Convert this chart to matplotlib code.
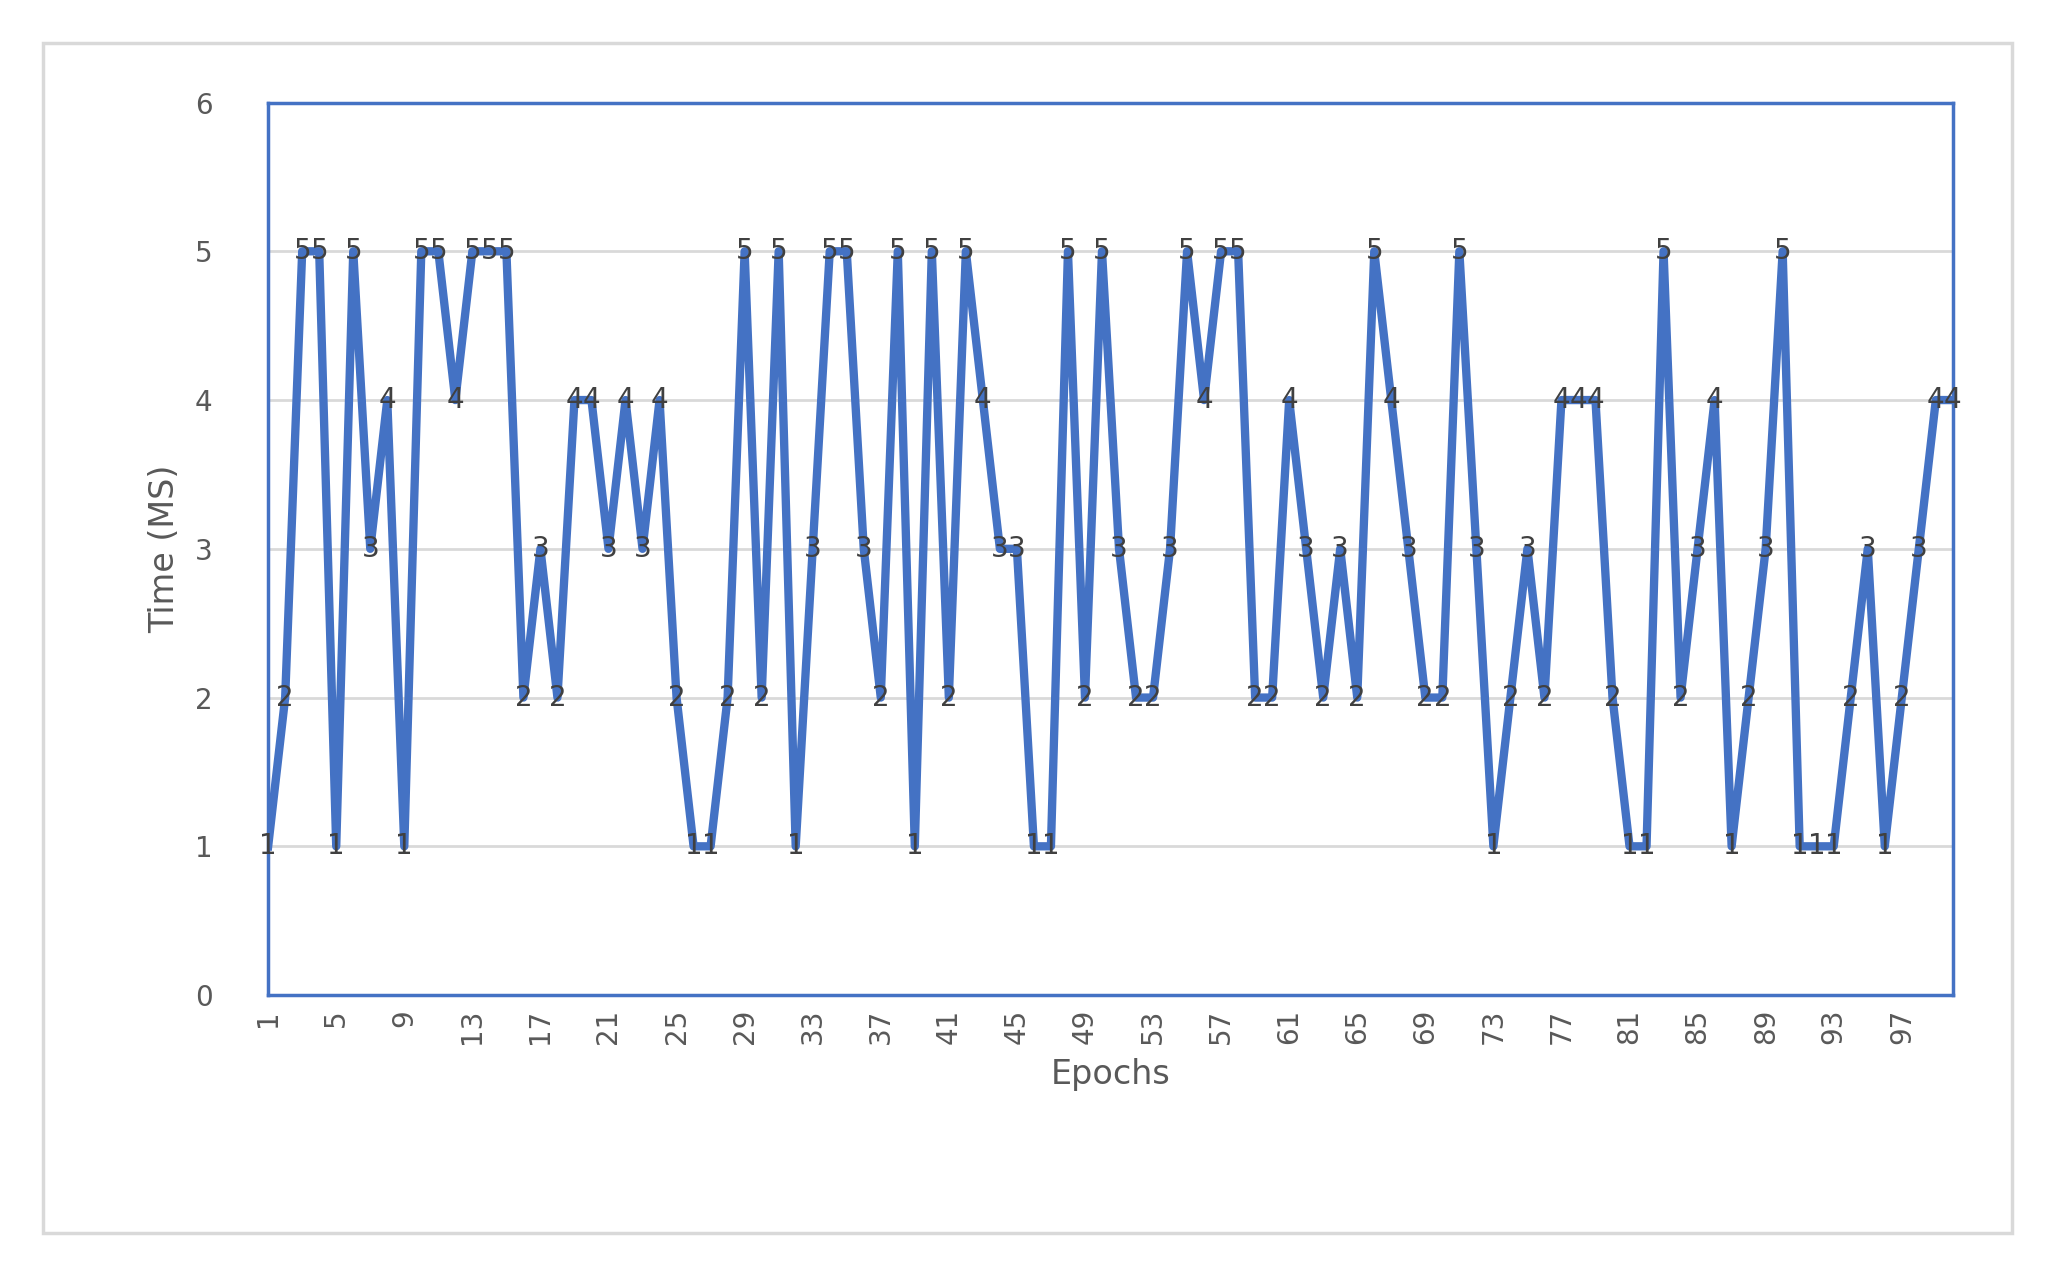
import matplotlib
matplotlib.use("Agg")
import matplotlib.pyplot as plt
from matplotlib.patches import Rectangle

epochs = list(range(1, 101))
times = [1, 2, 5, 5, 1, 5, 3, 4, 1, 5,
         5, 4, 5, 5, 5, 2, 3, 2, 4, 4,
         3, 4, 3, 4, 2, 1, 1, 2, 5, 2,
         5, 1, 3, 5, 5, 3, 2, 5, 1, 5,
         2, 5, 4, 3, 3, 1, 1, 5, 2, 5,
         3, 2, 2, 3, 5, 4, 5, 5, 2, 2,
         4, 3, 2, 3, 2, 5, 4, 3, 2, 2,
         5, 3, 1, 2, 3, 2, 4, 4, 4, 2,
         1, 1, 5, 2, 3, 4, 1, 2, 3, 5,
         1, 1, 1, 2, 3, 1, 2, 3, 4, 4]

BLUE = "#4472C4"
GREY = "#595959"

fig = plt.figure(figsize=(20.47, 12.66), dpi=100)
fig.patches.append(Rectangle((0.021, 0.026), 0.962, 0.94, transform=fig.transFigure,
                             fill=False, ec="#d9d9d9", lw=2.5))
ax = fig.add_axes([0.131, 0.214, 0.823, 0.705])

ax.plot(epochs, times, color=BLUE, lw=6, zorder=3)
for x, y in zip(epochs, times):
    ax.text(x, y, str(y), ha="center", va="center", fontsize=20, color="#404040", zorder=4)

ax.set_xlim(1, 100)
ax.set_ylim(0, 6)
ax.set_yticks(range(7))
ax.set_xticks(range(1, 101, 4))
ax.tick_params(axis="x", rotation=90, labelsize=20, colors=GREY, length=0, pad=10)
ax.tick_params(axis="y", labelsize=20, colors=GREY, length=0, pad=40)
ax.grid(axis="y", color="#d9d9d9", lw=2, zorder=0)
for s in ax.spines.values():
    s.set_color(BLUE)
    s.set_linewidth(2.5)
ax.set_xlabel("Epochs", fontsize=24, color=GREY, labelpad=10)
ax.set_ylabel("Time (MS)", fontsize=24, color=GREY, labelpad=10)

fig.savefig("out.png", dpi=100, facecolor="white")
